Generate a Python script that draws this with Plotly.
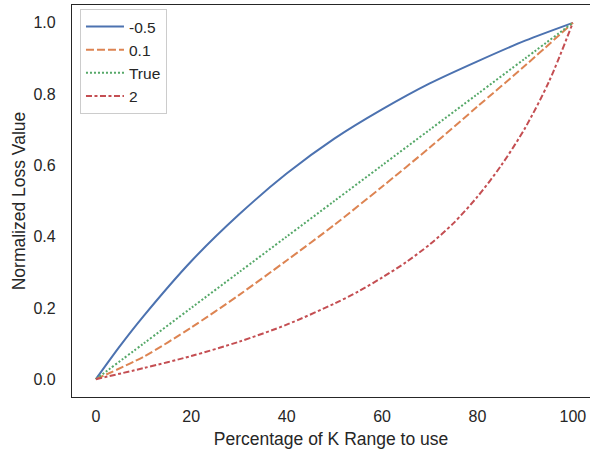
import plotly.graph_objects as go

# Data
x_blue = [0, 5, 10, 20, 30, 40, 50, 60, 70, 80, 90, 100]
y_blue = [0, 0.092, 0.177, 0.331, 0.462, 0.577, 0.675, 0.757, 0.83, 0.892, 0.95, 1.0]

x_orange = [0, 10, 20, 30, 40, 50, 60, 70, 80, 90, 100]
y_orange = [0, 0.063, 0.145, 0.236, 0.333, 0.433, 0.54, 0.65, 0.765, 0.88, 1.0]

x_green = [0, 10, 20, 30, 40, 50, 60, 70, 80, 90, 100]
y_green = [0, 0.1, 0.2, 0.3, 0.4, 0.5, 0.6, 0.7, 0.8, 0.9, 1.0]

x_red = [0, 10, 20, 30, 40, 50, 55, 60, 65, 70, 75, 80, 85, 90, 95, 100]
y_red = [0, 0.031, 0.065, 0.105, 0.153, 0.212, 0.246, 0.285, 0.328, 0.378, 0.438, 0.512, 0.60, 0.705, 0.835, 1.0]

names = ["-0.5", "0.1", "True", "2"]
colors = ["#4C72B0", "#DD8452", "#55A868", "#C44E52"]
dashes = ["solid", "8px,3px", "2px,2px", "6px,2.5px,3px,2.5px"]

series = [(x_blue, y_blue), (x_orange, y_orange), (x_green, y_green), (x_red, y_red)]

FONT = "Liberation Sans, Arial, sans-serif"
TXT = "#262626"

fig = go.Figure()
for (xs, ys), n, c, d in zip(series, names, colors, dashes):
    fig.add_trace(go.Scatter(
        x=xs, y=ys, name=n, mode="lines",
        line=dict(color=c, width=2, dash=d, shape="spline", smoothing=0.8),
    ))

fig.update_layout(
    width=590, height=450,
    margin=dict(l=72, r=0, t=5, b=53),
    paper_bgcolor="white", plot_bgcolor="white",
    font=dict(family=FONT, color=TXT, size=16),
    showlegend=True,
    legend=dict(
        x=0.0154, y=0.99, xanchor="left", yanchor="top",
        bgcolor="white", bordercolor="#cccccc", borderwidth=1,
        font=dict(size=15.5, color=TXT, family=FONT),
        itemwidth=38,
    ),
    xaxis=dict(
        range=[-5, 103.6], tickvals=[0, 20, 40, 60, 80, 100],
        showgrid=False, zeroline=False,
        showline=True, mirror=True, linecolor=TXT, linewidth=1.25,
        ticks="", ticklabelstandoff=5,
        tickfont=dict(size=16, color=TXT, family=FONT),
        title=dict(text="Percentage of K Range to use", font=dict(size=17.5, color=TXT, family=FONT), standoff=8),
    ),
    yaxis=dict(
        range=[-0.05, 1.05], tickvals=[0, 0.2, 0.4, 0.6, 0.8, 1.0],
        ticktext=["0.0", "0.2", "0.4", "0.6", "0.8", "1.0"],
        showgrid=False, zeroline=False,
        showline=True, mirror=False, linecolor=TXT, linewidth=1.25,
        ticks="", ticklabelstandoff=12,
        tickfont=dict(size=16, color=TXT, family=FONT),
        title=dict(text="Normalized Loss Value", font=dict(size=17.5, color=TXT, family=FONT), standoff=3),
    ),
)

fig.write_html("out.html")
